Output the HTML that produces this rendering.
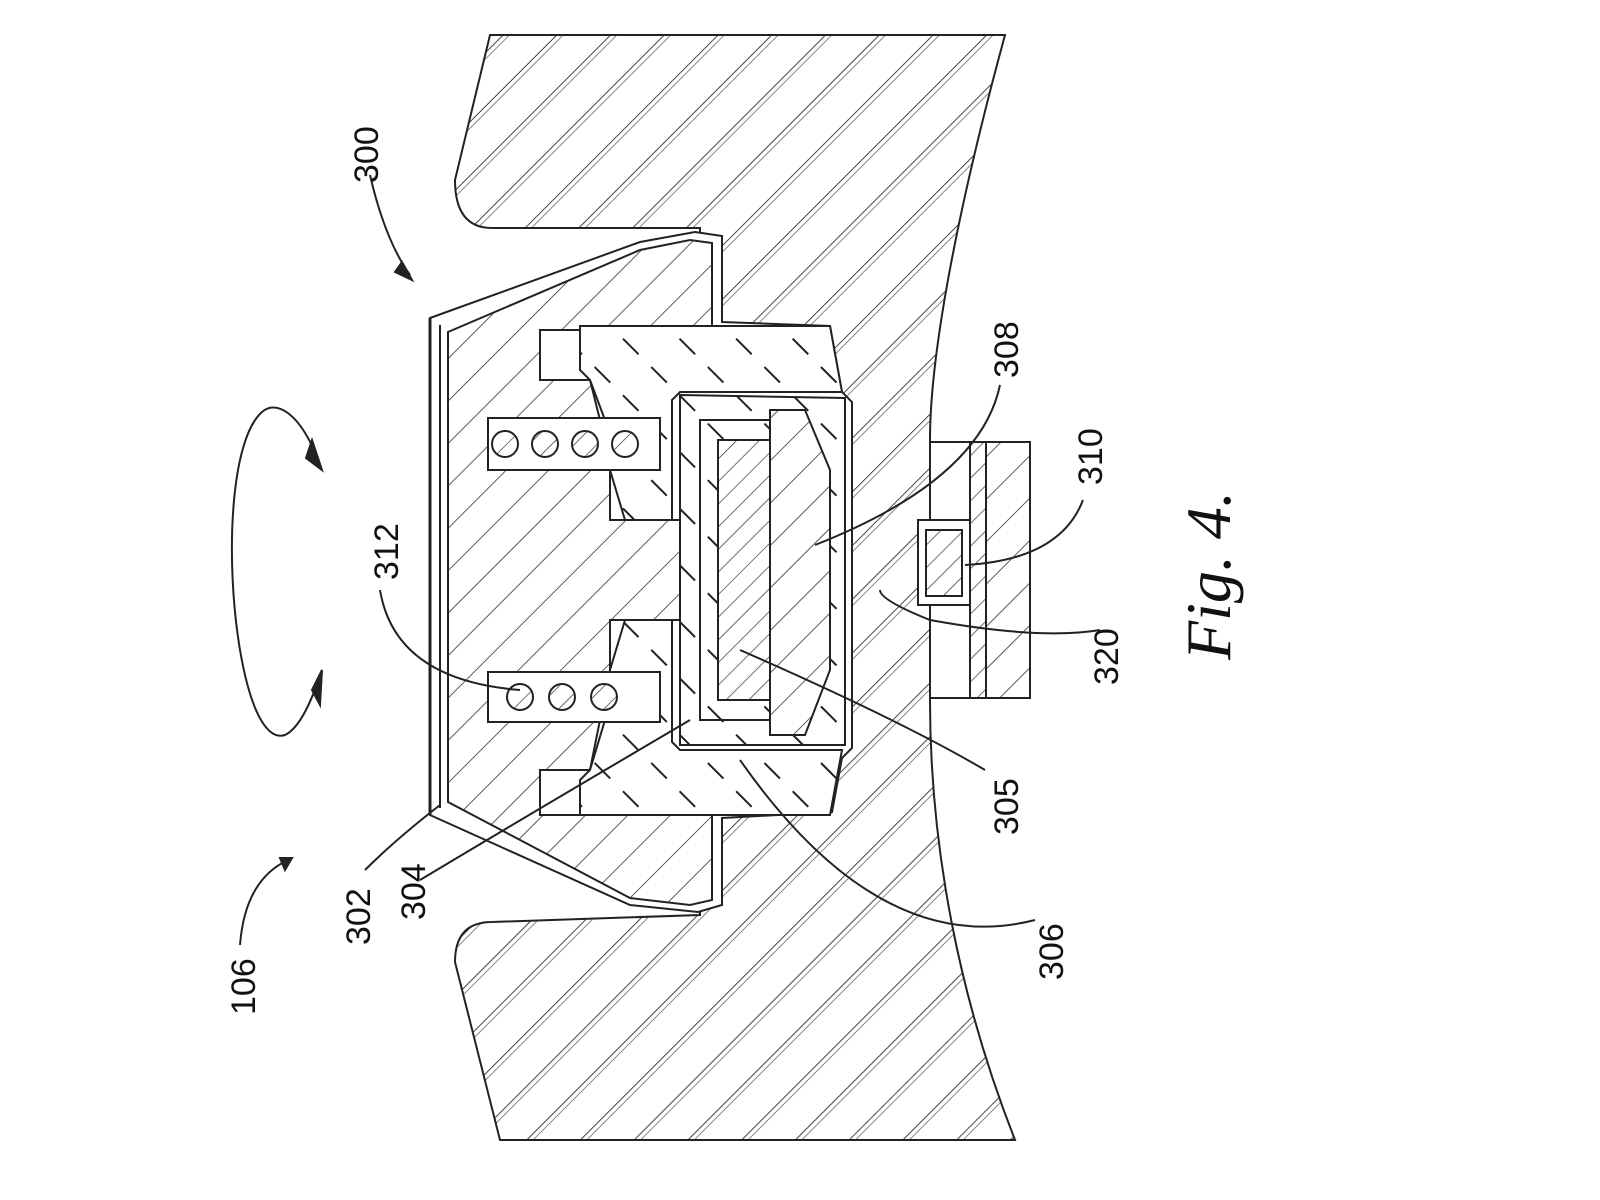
<!DOCTYPE html>
<html><head><meta charset="utf-8"><style>html,body{margin:0;padding:0;background:#fff}svg{display:block}</style></head>
<body>
<svg width="1600" height="1200" viewBox="0 0 1600 1200" xmlns="http://www.w3.org/2000/svg">
<defs>
<pattern id="h1" patternUnits="userSpaceOnUse" width="38" height="38" patternTransform="rotate(45)">
<rect width="38" height="38" fill="#fff"/><line x1="0" y1="0" x2="0" y2="38" stroke="#444" stroke-width="2"/><line x1="5" y1="0" x2="5" y2="38" stroke="#888" stroke-width="1"/></pattern>
<pattern id="h2" patternUnits="userSpaceOnUse" width="30" height="30" patternTransform="rotate(45)">
<rect width="30" height="30" fill="#fff"/><line x1="0" y1="0" x2="0" y2="30" stroke="#333" stroke-width="1.6"/></pattern>
<pattern id="h3" patternUnits="userSpaceOnUse" width="40" height="40" patternTransform="rotate(-45)">
<rect width="40" height="40" fill="#fff"/><line x1="0" y1="0" x2="0" y2="22" stroke="#222" stroke-width="4"/></pattern>
<pattern id="h4" patternUnits="userSpaceOnUse" width="16" height="16" patternTransform="rotate(45)">
<rect width="16" height="16" fill="#fff"/><line x1="0" y1="0" x2="0" y2="16" stroke="#333" stroke-width="1.4"/></pattern>
</defs>
<g stroke="#222" stroke-width="2" fill="none">
<path d="M490,35 L455,180 Q455,228 492,228 L700,228 L700,915 L492,922 Q455,922 455,962 L500,1140 L1015,1140 C960,1000 930,850 930,700 L930,440 C930,350 960,200 1005,35 Z" fill="url(#h1)"/>
<path d="M430,318 L640,242 L695,232 L722,236 L722,322 L830,326 L842,392 L852,402 L852,748 L842,758 L832,812 L722,818 L722,905 L698,912 L630,905 L430,815 Z" fill="#fff"/>
<path d="M448,332 L640,250 L690,240 L712,243 L712,330 L540,330 L540,380 L590,380 L600,420 L610,470 L610,520 L700,520 L700,620 L610,620 L610,670 L600,720 L590,770 L540,770 L540,815 L712,815 L712,900 L690,905 L630,898 L448,802 Z" fill="url(#h2)"/>
<path d="M430,318 L430,815" stroke-width="3"/>
<path d="M440,325 L440,808"/>
<path d="M580,326 L830,326 L842,392 L680,392 L672,400 L672,520 L625,520 L610,470 L605,420 L590,380 L580,370 Z" fill="url(#h3)"/>
<path d="M580,815 L830,815 L842,750 L680,750 L672,742 L672,620 L625,620 L610,670 L605,720 L590,770 L580,780 Z" fill="url(#h3)"/>
<path d="M680,395 L845,398 L845,745 L680,745 Z" fill="url(#h3)"/>
<path d="M718,440 L770,440 L770,700 L718,700 Z" fill="url(#h4)"/>
<path d="M770,410 L805,410 L830,470 L830,670 L805,735 L770,735 Z" fill="url(#h2)"/>
<path d="M700,420 L770,420 L770,720 L700,720 Z"/>
<path d="M488,418 L660,418 L660,470 L488,470 Z" fill="#fff"/>
<path d="M488,672 L660,672 L660,722 L488,722 Z" fill="#fff"/>
<g fill="url(#h4)">
<circle cx="505" cy="444" r="13"/><circle cx="545" cy="444" r="13"/><circle cx="585" cy="444" r="13"/><circle cx="625" cy="444" r="13"/>
<circle cx="520" cy="697" r="13"/><circle cx="562" cy="697" r="13"/><circle cx="604" cy="697" r="13"/>
</g>
<rect x="930" y="442" width="100" height="256" fill="#fff"/>
<rect x="970" y="442" width="16" height="256" fill="url(#h4)"/>
<rect x="986" y="442" width="44" height="256" fill="url(#h2)"/>
<rect x="918" y="520" width="52" height="85" fill="#fff"/>
<rect x="926" y="530" width="36" height="66" fill="url(#h4)"/>
<path d="M320,465 C300,410 275,400 262,412 C230,440 225,560 240,650 C252,720 270,740 285,735 C300,728 312,700 322,670"/>
<path d="M312,440 L322,470 L306,458 Z" fill="#222"/>
<path d="M322,670 L320,705 L312,690 Z" fill="#222"/>
<path d="M370,175 Q385,240 410,275"/><path d="M402,262 L412,280 L395,272 Z" fill="#222"/>
<path d="M240,945 Q245,880 288,860"/><path d="M280,858 L292,858 L285,870 Z" fill="#222"/>
<path d="M380,590 Q395,680 520,690"/>
<path d="M365,870 Q395,840 440,805"/>
<path d="M420,880 Q520,820 690,720"/>
<path d="M1000,385 Q980,480 815,545"/>
<path d="M1083,500 Q1060,560 965,565"/>
<path d="M1100,630 Q1040,640 930,620 Q880,600 880,590"/>
<path d="M985,770 Q900,720 740,650"/>
<path d="M1035,920 Q880,960 740,760"/>
</g>
<g font-family="Liberation Sans, sans-serif" font-size="34" fill="#111">
<text transform="translate(378,183) rotate(-90)">300</text>
<text transform="translate(398,580) rotate(-90)">312</text>
<text transform="translate(370,945) rotate(-90)">302</text>
<text transform="translate(425,920) rotate(-90)">304</text>
<text transform="translate(255,1015) rotate(-90)">106</text>
<text transform="translate(1018,378) rotate(-90)">308</text>
<text transform="translate(1102,485) rotate(-90)">310</text>
<text transform="translate(1118,685) rotate(-90)">320</text>
<text transform="translate(1018,835) rotate(-90)">305</text>
<text transform="translate(1063,980) rotate(-90)">306</text>
<text transform="translate(1230,660) rotate(-90)" font-family="Liberation Serif, serif" font-style="italic" font-size="64">Fig. 4.</text>
</g>
</svg>
</body></html>
